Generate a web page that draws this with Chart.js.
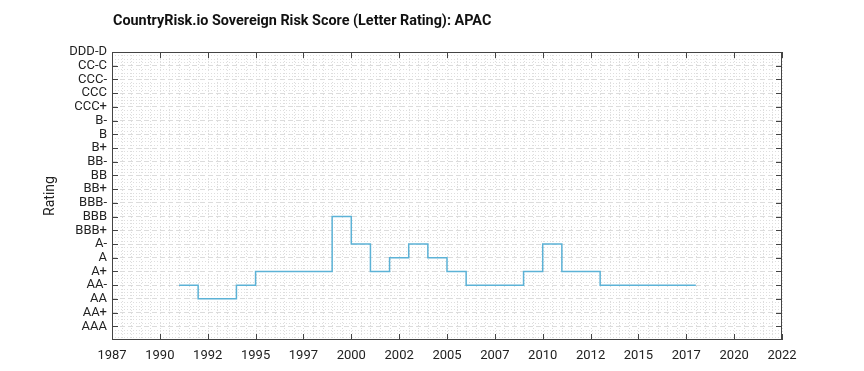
<!DOCTYPE html>
<html>
<head>
  <meta charset="UTF-8">
  <title>CountryRisk.io Sovereign Risk Score: APAC</title>
  <script src="https://cdn.jsdelivr.net/npm/chart.js"></script>
  <style>
    html, body { margin: 0; padding: 0; background: #fff; }
    #wrap { width: 864px; height: 371px; }
  </style>
</head>
<body>
  <div id="wrap"><canvas id="chart"></canvas></div>

  <script>
    const titleText = "CountryRisk.io Sovereign Risk Score (Letter Rating): APAC";
    const ratings = ["AAA", "AA+", "AA", "AA-", "A+", "A", "A-", "BBB+", "BBB", "BBB-", "BB+", "BB", "BB-",
                     "B+", "B", "B-", "CCC+", "CCC", "CCC-", "CC-C", "DDD-D"];
    const years = [1991, 1992, 1993, 1994, 1995, 1996, 1997, 1998, 1999, 2000, 2001, 2002, 2003, 2004,
                   2005, 2006, 2007, 2008, 2009, 2010, 2011, 2012, 2013, 2014, 2015, 2016, 2017, 2018];
    const scores = ["AA-", "AA", "AA", "AA-", "A+", "A+", "A+", "A+", "BBB", "A-", "A+", "A", "A-", "A",
                    "A+", "AA-", "AA-", "AA-", "A+", "A-", "A+", "A+", "AA-", "AA-", "AA-", "AA-", "AA-", "AA-"];
    const xTickValues = [1987.5, 1990, 1992.5, 1995, 1997.5, 2000, 2002.5, 2005, 2007.5, 2010, 2012.5, 2015, 2017.5, 2020, 2022.5];
    const xTickLabels = ["1987", "1990", "1992", "1995", "1997", "2000", "2002", "2005", "2007", "2010", "2012", "2015", "2017", "2020", "2022"];

    const points = years.map((yr, i) => ({ x: yr, y: ratings.indexOf(scores[i]) }));

    // box, inward ticks, minor grid and title
    const framePlugin = {
      id: "frame",
      beforeDatasetsDraw(chart) {
        const { ctx, chartArea: a, scales: { x, y } } = chart;
        ctx.save();
        ctx.strokeStyle = "#dedede";
        ctx.lineWidth = 1;
        ctx.setLineDash([1, 2]);
        for (let v = x.min; v <= x.max + 1e-6; v += 0.5) {
          const px = Math.round(x.getPixelForValue(v)) + 0.5;
          ctx.beginPath(); ctx.moveTo(px, a.top); ctx.lineTo(px, a.bottom); ctx.stroke();
        }
        for (let v = y.min; v <= y.max + 1e-6; v += 0.25) {
          if (Math.abs(v - Math.round(v)) < 1e-6) continue;
          const py = Math.round(y.getPixelForValue(v)) + 0.5;
          ctx.beginPath(); ctx.moveTo(a.left, py); ctx.lineTo(a.right, py); ctx.stroke();
        }
        ctx.restore();
      },
      afterDraw(chart) {
        const { ctx, chartArea: a, scales: { x, y } } = chart;
        ctx.save();
        ctx.strokeStyle = "#444";
        ctx.lineWidth = 1;
        ctx.setLineDash([]);
        ctx.strokeRect(Math.round(a.left) + 0.5, Math.round(a.top) + 0.5, Math.round(a.width) - 1, Math.round(a.height) - 1);
        const len = 6;
        ctx.beginPath();
        xTickValues.forEach(v => {
          const px = Math.round(x.getPixelForValue(v)) + 0.5;
          ctx.moveTo(px, a.bottom); ctx.lineTo(px, a.bottom - len);
          ctx.moveTo(px, a.top); ctx.lineTo(px, a.top + len);
        });
        ratings.forEach((r, i) => {
          const py = Math.round(y.getPixelForValue(i)) + 0.5;
          ctx.moveTo(a.left, py); ctx.lineTo(a.left + len, py);
          ctx.moveTo(a.right, py); ctx.lineTo(a.right - len, py);
        });
        ctx.stroke();
        ctx.font = "bold 14.4px Roboto";
        ctx.fillStyle = "#111";
        ctx.textBaseline = "middle";
        ctx.textAlign = "left";
        ctx.fillText(titleText, a.left + 1, 21);
        ctx.restore();
      }
    };

    new Chart(document.getElementById("chart"), {
      type: "line",
      data: {
        datasets: [{
          label: "APAC",
          data: points,
          stepped: "before",
          borderColor: "#5cb2d6",
          borderWidth: 1.5,
          pointRadius: 0,
          fill: false
        }]
      },
      options: {
        animation: false,
        responsive: true,
        maintainAspectRatio: false,
        layout: { padding: { top: 52, right: 82, bottom: 0, left: 0 } },
        scales: {
          x: {
            type: "linear",
            min: 1987.5,
            max: 2022.5,
            afterBuildTicks: scale => { scale.ticks = xTickValues.map(v => ({ value: v })); },
            afterFit: scale => { scale.height = 31; },
            ticks: {
              callback: (v, i) => xTickLabels[i],
              color: "#222",
              font: { family: "Roboto", size: 13 },
              padding: 8,
              maxRotation: 0,
              autoSkip: false
            },
            grid: { display: false, drawTicks: false },
            border: { display: false }
          },
          y: {
            type: "linear",
            min: -1,
            max: 20,
            afterBuildTicks: scale => { scale.ticks = ratings.map((r, i) => ({ value: i })); },
            afterFit: scale => { scale.width = 112; },
            ticks: {
              callback: (v) => ratings[v],
              color: "#222",
              font: { family: "Roboto", size: 13 },
              padding: 5,
              autoSkip: false
            },
            grid: { color: "#dcdcdc", drawTicks: false },
            border: { display: false, dash: [5, 3] },
            title: {
              display: true,
              text: "Rating",
              color: "#222",
              font: { family: "Roboto", size: 14 },
              padding: { top: 42, bottom: 0 }
            }
          }
        },
        plugins: {
          legend: { display: false },
          tooltip: { enabled: false },
          title: { display: false }
        }
      },
      plugins: [framePlugin]
    });
  </script>
</body>
</html>
